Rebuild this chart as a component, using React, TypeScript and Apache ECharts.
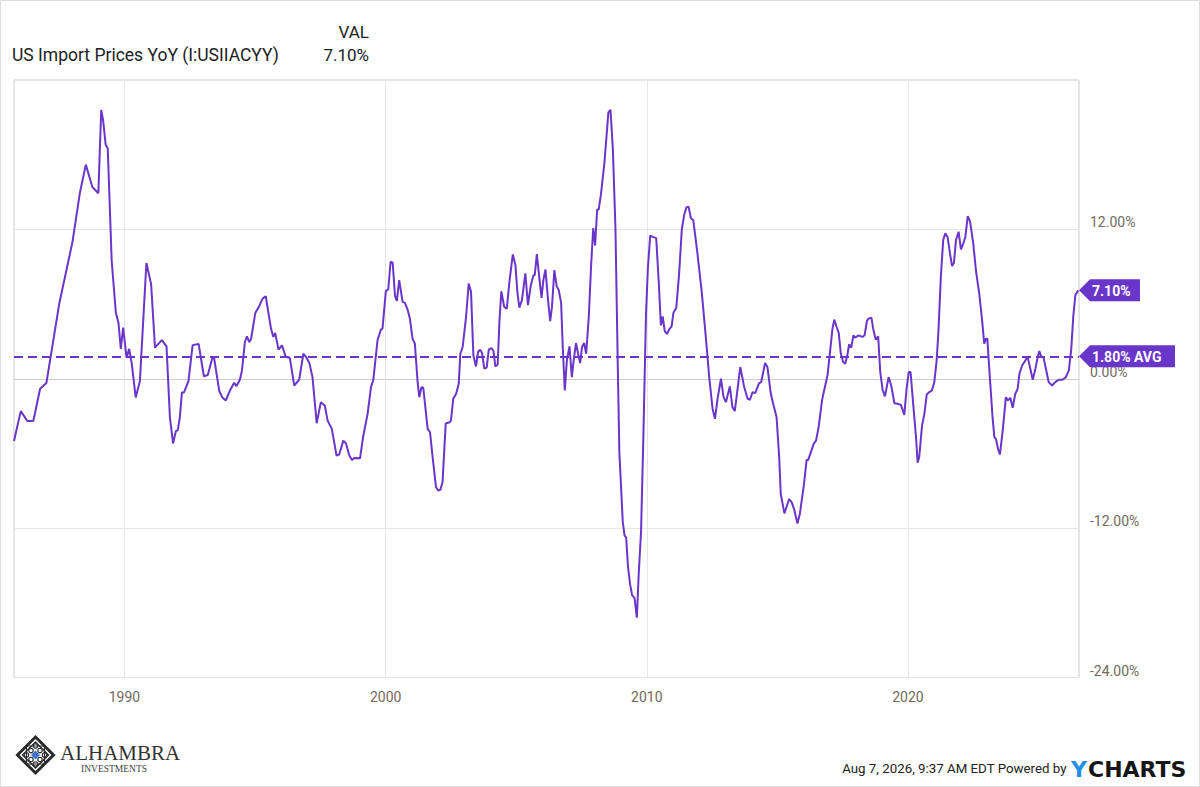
import React, { useEffect, useRef } from "react";
import * as echarts from "echarts";

// Decimal years of each traced vertex and the YoY value (%)
const dates = [
  1985.77, 1986.03, 1986.28, 1986.51, 1986.77, 1987.01, 1987.5, 1988.01, 1988.29, 1988.52,
  1988.77, 1989.0, 1989.11, 1989.18, 1989.28, 1989.36, 1989.51, 1989.67, 1989.77, 1989.86,
  1989.95, 1990.08, 1990.18, 1990.28, 1990.43, 1990.59, 1990.84, 1991.02, 1991.17, 1991.43,
  1991.61, 1991.74, 1991.86, 1991.97, 1992.04, 1992.12, 1992.2, 1992.28, 1992.45, 1992.61,
  1992.84, 1993.04, 1993.19, 1993.37, 1993.43, 1993.63, 1993.75, 1993.88, 1994.04, 1994.2,
  1994.29, 1994.42, 1994.5, 1994.61, 1994.69, 1994.78, 1994.85, 1995.01, 1995.13, 1995.29,
  1995.41, 1995.61, 1995.7, 1995.77, 1995.9, 1996.03, 1996.18, 1996.33, 1996.5, 1996.69,
  1996.85, 1996.97, 1997.08, 1997.2, 1997.36, 1997.52, 1997.67, 1997.78, 1997.94, 1998.12,
  1998.22, 1998.38, 1998.48, 1998.61, 1998.71, 1998.8, 1999.02, 1999.14, 1999.31, 1999.44,
  1999.53, 1999.69, 1999.82, 1999.88, 2000.01, 2000.1, 2000.19, 2000.27, 2000.36, 2000.43,
  2000.52, 2000.65, 2000.74, 2000.84, 2000.93, 2001.03, 2001.12, 2001.23, 2001.29, 2001.37,
  2001.44, 2001.61, 2001.7, 2001.8, 2001.93, 2002.02, 2002.1, 2002.18, 2002.3, 2002.45,
  2002.5, 2002.59, 2002.7, 2002.8, 2002.86, 2002.95, 2003.08, 2003.18, 2003.27, 2003.36,
  2003.46, 2003.54, 2003.62, 2003.69, 2003.78, 2003.87, 2003.95, 2004.05, 2004.13, 2004.2,
  2004.29, 2004.36, 2004.43, 2004.54, 2004.64, 2004.74, 2004.87, 2004.97, 2005.05, 2005.12,
  2005.22, 2005.35, 2005.45, 2005.56, 2005.66, 2005.71, 2005.79, 2005.89, 2005.97, 2006.04,
  2006.12, 2006.22, 2006.3, 2006.37, 2006.46, 2006.55, 2006.63, 2006.72, 2006.78, 2006.86,
  2006.94, 2007.04, 2007.13, 2007.2, 2007.29, 2007.37, 2007.45, 2007.52, 2007.6, 2007.68,
  2007.78, 2007.87, 2007.95, 2008.02, 2008.1, 2008.16, 2008.25, 2008.38, 2008.53, 2008.61,
  2008.7, 2008.8, 2008.89, 2008.95, 2009.08, 2009.15, 2009.21, 2009.28, 2009.36, 2009.44,
  2009.53, 2009.62, 2009.69, 2009.78, 2009.87, 2009.97, 2010.04, 2010.13, 2010.23, 2010.36,
  2010.46, 2010.54, 2010.61, 2010.69, 2010.77, 2010.84, 2010.95, 2011.02, 2011.13, 2011.24,
  2011.34, 2011.43, 2011.52, 2011.6, 2011.69, 2011.78, 2011.94, 2012.11, 2012.26, 2012.39,
  2012.52, 2012.61, 2012.71, 2012.84, 2012.94, 2013.03, 2013.18, 2013.28, 2013.37, 2013.47,
  2013.58, 2013.73, 2013.86, 2013.95, 2014.05, 2014.15, 2014.3, 2014.38, 2014.53, 2014.62,
  2014.75, 2014.84, 2014.97, 2015.07, 2015.13, 2015.27, 2015.45, 2015.55, 2015.64, 2015.77,
  2015.86, 2016.02, 2016.12, 2016.18, 2016.28, 2016.39, 2016.48, 2016.58, 2016.71, 2016.79,
  2016.92, 2017.01, 2017.11, 2017.18, 2017.27, 2017.35, 2017.43, 2017.52, 2017.6, 2017.69,
  2017.75, 2017.83, 2017.91, 2017.98, 2018.11, 2018.26, 2018.34, 2018.43, 2018.49, 2018.6,
  2018.68, 2018.77, 2018.86, 2018.94, 2019.03, 2019.12, 2019.26, 2019.36, 2019.48, 2019.6,
  2019.73, 2019.86, 2019.95, 2020.03, 2020.1, 2020.22, 2020.31, 2020.37, 2020.43, 2020.54,
  2020.63, 2020.72, 2020.82, 2020.92, 2021.01, 2021.1, 2021.17, 2021.26, 2021.35, 2021.43,
  2021.52, 2021.61, 2021.69, 2021.76, 2021.84, 2021.94, 2022.03, 2022.12, 2022.2, 2022.29,
  2022.38, 2022.5, 2022.61, 2022.73, 2022.84, 2022.92, 2022.99, 2023.04, 2023.14, 2023.24,
  2023.31, 2023.37, 2023.45, 2023.52, 2023.63, 2023.75, 2023.83, 2023.92, 2024.01, 2024.11,
  2024.2, 2024.27, 2024.37, 2024.5, 2024.58, 2024.67, 2024.78, 2024.88, 2024.97, 2025.03,
  2025.1, 2025.19, 2025.29, 2025.39, 2025.52, 2025.64, 2025.77, 2025.92, 2026.05, 2026.16,
  2026.25, 2026.33, 2026.41, 2026.52,
];

const yoy = [
  -5.0, -2.6, -3.4, -3.4, -0.8, -0.35, 6.0, 11.0, 14.9, 17.2,
  15.4, 14.9, 21.6, 20.8, 18.8, 18.5, 9.5, 5.3, 4.5, 2.4,
  4.1, 1.7, 2.4, 1.2, -1.5, -0.2, 9.3, 7.6, 2.5, 3.1,
  2.6, -3.1, -5.2, -4.2, -4.15, -3.1, -1.1, -1.1, -0.2, 2.7,
  2.8, 0.2, 0.3, 1.7, 1.7, -1.0, -1.5, -1.74, -0.94, -0.32,
  -0.59, -0.08, 0.67, 2.95, 3.41, 2.95, 3.22, 5.29, 5.72, 6.44,
  6.63, 4.03, 3.36, 3.68, 2.34, 2.68, 1.74, 1.69, -0.54, -0.08,
  2.01, 1.69, 1.26, 0.13, -3.57, -1.88, -2.15, -3.36, -4.03, -6.17,
  -6.09, -4.97, -5.18, -6.17, -6.52, -6.36, -6.39, -4.64, -2.82, -0.67,
  -0.08, 3.09, 3.95, 4.03, 7.06, 7.17, 9.4, 9.32, 6.63, 6.26,
  7.92, 6.17, 6.09, 5.56, 4.83, 3.22, 2.82, -0.4, -1.48, -0.67,
  -0.72, -4.03, -4.3, -6.31, -8.72, -8.99, -8.9, -8.3, -3.6, -3.5,
  -3.36, -1.61, -1.21, -0.4, 2.01, 2.55, 4.97, 7.65, 6.98, 1.88,
  0.99, 2.15, 2.34, 2.07, 0.81, 0.89, 2.34, 2.47, 2.23, 0.99,
  1.15, 4.7, 7.03, 5.77, 5.64, 7.79, 9.99, 9.13, 6.85, 5.72,
  6.31, 8.46, 5.91, 7.52, 8.32, 8.32, 10.01, 8.0, 6.5, 7.92,
  8.78, 6.31, 4.62, 5.77, 8.72, 7.44, 7.11, 6.09, 2.68, -0.94,
  1.48, 2.6, 0.13, 1.48, 2.87, 2.01, 1.26, 2.55, 2.87, 2.01,
  5.0, 9.2, 12.1, 10.7, 13.6, 13.6, 14.9, 17.4, 21.4, 21.6,
  18.5, 12.1, 1.0, -5.9, -11.5, -12.6, -12.75, -15.1, -16.5, -17.4,
  -17.6, -19.2, -15.7, -12.3, -4.6, 5.2, 8.8, 11.5, 11.4, 11.3,
  7.7, 4.3, 5.0, 3.8, 3.6, 3.9, 4.2, 5.3, 5.7, 8.5,
  11.95, 13.15, 13.77, 13.83, 12.89, 12.75, 10.07, 6.85, 3.36, 0.13,
  -2.42, -3.22, -1.61, 0.0, -1.48, -1.88, -0.62, -2.28, -2.6, -0.94,
  0.94, -0.67, -1.61, -1.69, -1.07, -1.15, -0.35, -0.27, 1.26, 0.94,
  -1.21, -2.01, -3.09, -6.31, -9.26, -10.82, -9.66, -9.93, -10.47, -11.62,
  -10.87, -8.46, -6.52, -6.52, -5.91, -5.23, -4.97, -3.89, -1.74, -0.94,
  0.27, 2.01, 4.03, 4.75, 4.16, 3.68, 2.01, 1.34, 1.21, 2.01,
  2.77, 2.5, 3.49, 3.3, 3.49, 3.36, 3.49, 4.64, 4.83, 4.91,
  3.89, 3.14, 3.41, 0.54, -0.89, -1.42, 0.13, -0.54, -1.96, -2.01,
  -2.1, -2.9, -0.75, 0.54, 0.54, -2.5, -4.7, -6.75, -6.31, -3.76,
  -2.82, -1.26, -1.07, -0.94, -0.27, 1.48, 3.89, 8.19, 11.14, 11.68,
  11.36, 10.07, 9.05, 9.32, 11.14, 11.81, 10.39, 10.87, 11.41, 13.07,
  12.62, 10.87, 8.59, 6.85, 4.7, 2.82, 3.22, 3.22, 0.0, -3.09,
  -4.7, -4.83, -5.64, -6.09, -4.16, -1.48, -1.74, -1.53, -2.34, -1.21,
  -0.81, 0.4, 1.07, 1.48, 1.8, 0.94, -0.08, 0.81, 1.74, 2.23,
  1.8, 1.74, 0.72, -0.27, -0.54, -0.27, -0.08, -0.08, 0.13, 0.67,
  2.28, 4.97, 6.71, 7.1,
];

const xTickYears = [1990, 2000, 2010, 2020];
const yTickValues = [-24, -12, 0, 12, 24];
const seriesName = "US Import Prices YoY (I:USIIACYY)";
const latestValue = 7.1;
const averageValue = 1.8;
const xMin = 1985.77;
const xMax = 2026.55;

const PURPLE = "#6a35c9";
const LABEL_GRAY = "#73695e";

export default function App() {
  const ref = useRef<HTMLDivElement>(null);

  useEffect(() => {
    if (!ref.current) return;
    const chart = echarts.init(ref.current, null, { renderer: "svg" });
    const data = dates.map((d, i) => [d, yoy[i]]);

    chart.setOption({
      animation: false,
      textStyle: { fontFamily: "Roboto" },
      grid: {
        left: 14,
        right: 121,
        top: 80,
        bottom: 109.5,
        show: true,
        borderColor: "#cccccc",
        borderWidth: 1,
        backgroundColor: "transparent",
      },
      xAxis: {
        type: "value",
        min: xMin,
        max: xMax,
        axisLine: { show: false },
        axisTick: { show: false, customValues: xTickYears },
        axisLabel: {
          customValues: xTickYears,
          color: LABEL_GRAY,
          fontSize: 14,
          fontFamily: "Roboto",
          margin: 12,
          formatter: (v: number) => String(Math.round(v)),
        },
        splitLine: { show: true, lineStyle: { color: "#e6e6e6", width: 1 } },
      },
      yAxis: {
        type: "value",
        position: "right",
        min: yTickValues[0],
        max: yTickValues[yTickValues.length - 1],
        interval: 12,
        axisLine: { show: false },
        axisTick: { show: false },
        axisLabel: {
          color: LABEL_GRAY,
          fontSize: 14,
          fontFamily: "Roboto",
          margin: 11,
          showMaxLabel: false,
          verticalAlign: "bottom",
          lineHeight: 14,
          formatter: (v: number) => (v === 24 ? "" : v.toFixed(2) + "%"),
        },
        splitLine: {
          show: true,
          lineStyle: { color: ["#e6e6e6", "#e6e6e6", "#cccccc", "#e6e6e6", "#e6e6e6"], width: 1 },
        },
      },
      series: [
        {
          name: seriesName,
          type: "line",
          data,
          showSymbol: false,
          symbol: "none",
          lineStyle: { color: PURPLE, width: 2 },
          markLine: {
            silent: true,
            symbol: "none",
            label: { show: false },
            lineStyle: { color: PURPLE, type: [9, 5], width: 2 },
            data: [{ yAxis: averageValue }],
          },
        },
      ],
    });

    const pLatest = chart.convertToPixel({ gridIndex: 0 }, [xMax, latestValue]) as number[];
    const pAvg = chart.convertToPixel({ gridIndex: 0 }, [xMax, averageValue]) as number[];

    const tag = (tipX: number, y: number, w: number, text: string) => [
      {
        type: "polygon",
        z: 100,
        shape: {
          points: [
            [tipX, y],
            [tipX + 11, y - 11],
            [tipX + w, y - 11],
            [tipX + w, y + 11],
            [tipX + 11, y + 11],
          ],
        },
        style: { fill: PURPLE },
      },
      {
        type: "text",
        z: 101,
        x: tipX + 13,
        y: y + 0.5,
        style: {
          text,
          fill: "#ffffff",
          font: 'bold 14px "Roboto"',
          textAlign: "left",
          textVerticalAlign: "middle",
        },
      },
    ];

    const cx = 35.5;
    const cy = 755;
    const dark = "#2b2b2b";
    const dots: any[] = [];
    [[-9, 0], [9, 0], [0, -9], [0, 9], [-4.5, -4.5], [4.5, -4.5], [-4.5, 4.5], [4.5, 4.5]].forEach(([dx, dy]) => {
      dots.push({
        type: "circle",
        z: 100,
        shape: { cx: cx + dx, cy: cy + dy, r: 2.2 },
        style: { fill: "none", stroke: dark, lineWidth: 1.2 },
      });
    });
    const logo = [
      {
        type: "polygon",
        z: 100,
        shape: { points: [[cx, cy - 18], [cx + 18, cy], [cx, cy + 18], [cx - 18, cy]] },
        style: { fill: "none", stroke: dark, lineWidth: 3 },
      },
      {
        type: "polygon",
        z: 100,
        shape: { points: [[cx, cy - 13], [cx + 13, cy], [cx, cy + 13], [cx - 13, cy]] },
        style: { fill: "none", stroke: dark, lineWidth: 1.4 },
      },
      {
        type: "rect",
        z: 100,
        shape: { x: cx - 9, y: cy - 9, width: 18, height: 18 },
        style: { fill: "none", stroke: dark, lineWidth: 1.2 },
      },
      ...dots,
      {
        type: "polygon",
        z: 101,
        shape: { points: [[cx, cy - 4.5], [cx + 4.5, cy], [cx, cy + 4.5], [cx - 4.5, cy]] },
        style: { fill: "#3f72c8" },
      },
      {
        type: "text",
        z: 100,
        x: 60,
        y: 753.3,
        style: {
          text: "ALHAMBRA",
          fill: "#333333",
          font: '21px "Liberation Serif"',
          textAlign: "left",
          textVerticalAlign: "middle",
        },
      },
      {
        type: "text",
        z: 100,
        x: 81,
        y: 769.3,
        style: {
          text: "INVESTMENTS",
          fill: "#444444",
          font: '9.5px "Liberation Serif"',
          textAlign: "left",
          textVerticalAlign: "middle",
        },
      },
    ];

    const elements: any[] = [
      {
        type: "rect",
        z: 0,
        shape: { x: 0.5, y: 0.5, width: 1199, height: 786 },
        style: { fill: "none", stroke: "#dddddd", lineWidth: 1 },
      },
      {
        type: "text",
        z: 100,
        x: 12,
        y: 55,
        style: {
          text: seriesName,
          fill: "#222222",
          font: '17.5px "Roboto"',
          textAlign: "left",
          textVerticalAlign: "middle",
        },
      },
      {
        type: "text",
        z: 100,
        x: 369,
        y: 31.5,
        style: { text: "VAL", fill: "#222222", font: '17px "Roboto"', textAlign: "right", textVerticalAlign: "middle" },
      },
      {
        type: "text",
        z: 100,
        x: 369,
        y: 55,
        style: {
          text: latestValue.toFixed(2) + "%",
          fill: "#222222",
          font: '17px "Roboto"',
          textAlign: "right",
          textVerticalAlign: "middle",
        },
      },
      ...tag(pLatest[0], pLatest[1], 61, latestValue.toFixed(2) + "%"),
      ...tag(pAvg[0], pAvg[1], 96, averageValue.toFixed(2) + "% AVG"),
      ...logo,
      {
        type: "text",
        z: 100,
        x: 1066.5,
        y: 768,
        style: {
          text: "Aug 7, 2026, 9:37 AM EDT Powered by",
          fill: "#222222",
          font: '13.3px "Roboto"',
          textAlign: "right",
          textVerticalAlign: "middle",
        },
      },
      {
        type: "text",
        z: 100,
        x: 1071,
        y: 769.5,
        style: { text: "Y", fill: "#1f8fe6", font: 'bold 22px "DejaVu Sans"', textAlign: "left", textVerticalAlign: "middle" },
      },
      {
        type: "text",
        z: 100,
        x: 1088,
        y: 769.5,
        style: {
          text: "CHARTS",
          fill: "#161616",
          font: 'bold 22px "DejaVu Sans"',
          textAlign: "left",
          textVerticalAlign: "middle",
        },
      },
    ];

    chart.setOption({ graphic: { elements } });

    return () => chart.dispose();
  }, []);

  return (
    <div
      ref={ref}
      style={{ position: "absolute", left: 0, top: 0, width: 1200, height: 787, background: "#ffffff" }}
    />
  );
}
